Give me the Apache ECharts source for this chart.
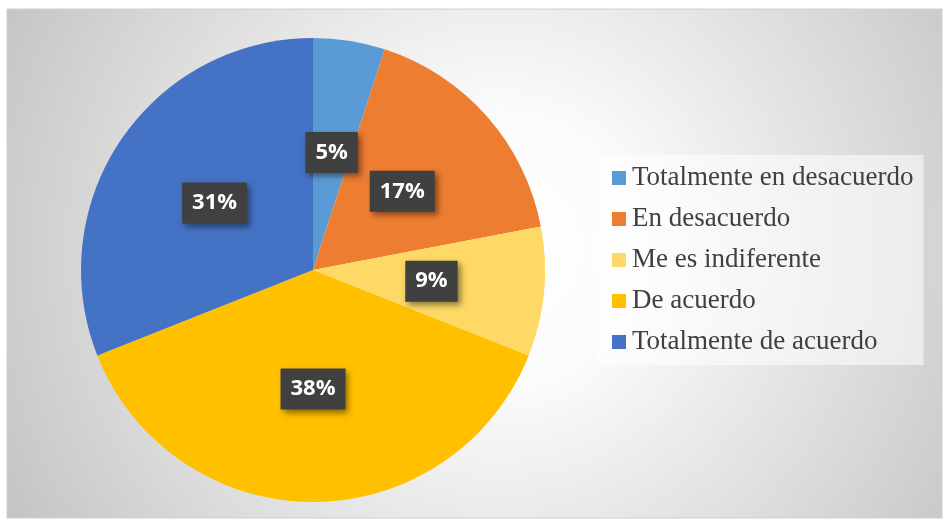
<!DOCTYPE html>
<html>
<head>
<meta charset="utf-8">
<script src="https://cdn.jsdelivr.net/npm/echarts@6/dist/echarts.min.js"></script>
<style>
  html, body { margin: 0; padding: 0; background: #fff; }
  #chart { width: 944px; height: 522px; }
</style>
</head>
<body>
<div id="chart"></div>
<script>
// datos
var categorias = ['Totalmente en desacuerdo', 'En desacuerdo', 'Me es indiferente', 'De acuerdo', 'Totalmente de acuerdo'];
var porcentajes = [5, 17, 9, 38, 31];
var colores = ['#5B9BD5', '#ED7D31', '#FFD966', '#FFC000', '#4472C4'];

function armarDatos(nombres, valores) {
    var out = [];
    for (var i = 0; i < nombres.length; i++) {
        out.push({ name: nombres[i], value: valores[i], itemStyle: { color: colores[i] } });
    }
    return out;
}

var chart = echarts.init(document.getElementById('chart'));

var option = {
    animation: false,
    graphic: [
        {
            type: 'rect',
            z: -10,
            shape: { x: 7, y: 9, width: 935, height: 509 },
            style: {
                fill: new echarts.graphic.RadialGradient(500, 250, 550, [
                    { offset: 0, color: '#ffffff' },
                    { offset: 0.25, color: '#fbfbfb' },
                    { offset: 1, color: '#c5c5c5' }
                ], true),
                stroke: '#d0d0d0',
                lineWidth: 1
            }
        }
    ],
    legend: {
        orient: 'vertical',
        left: 598,
        top: 155,
        padding: [9, 10, 9, 14],
        backgroundColor: 'rgba(255,255,255,0.55)',
        icon: 'rect',
        itemWidth: 14,
        itemHeight: 14,
        itemGap: 13,
        data: categorias,
        textStyle: {
            fontFamily: 'Liberation Serif',
            fontSize: 27,
            lineHeight: 28,
            color: '#404040',
            padding: [0, 0, 0, 1]
        }
    },
    series: [
        {
            type: 'pie',
            center: [313, 270],
            radius: 232,
            startAngle: 90,
            clockwise: true,
            silent: true,
            label: {
                show: true,
                position: 'inside',
                formatter: '{c}%',
                color: '#ffffff',
                fontFamily: 'Open Sans',
                fontWeight: 'bold',
                fontSize: 22,
                backgroundColor: '#404040',
                padding: [10, 10, 9, 10],
                shadowBlur: 6,
                shadowOffsetX: 3,
                shadowOffsetY: 3,
                shadowColor: 'rgba(0,0,0,0.45)'
            },
            labelLine: { show: false },
            itemStyle: { borderWidth: 0 },
            data: armarDatos(categorias, porcentajes)
        }
    ]
};

chart.setOption(option);
</script>
</body>
</html>
